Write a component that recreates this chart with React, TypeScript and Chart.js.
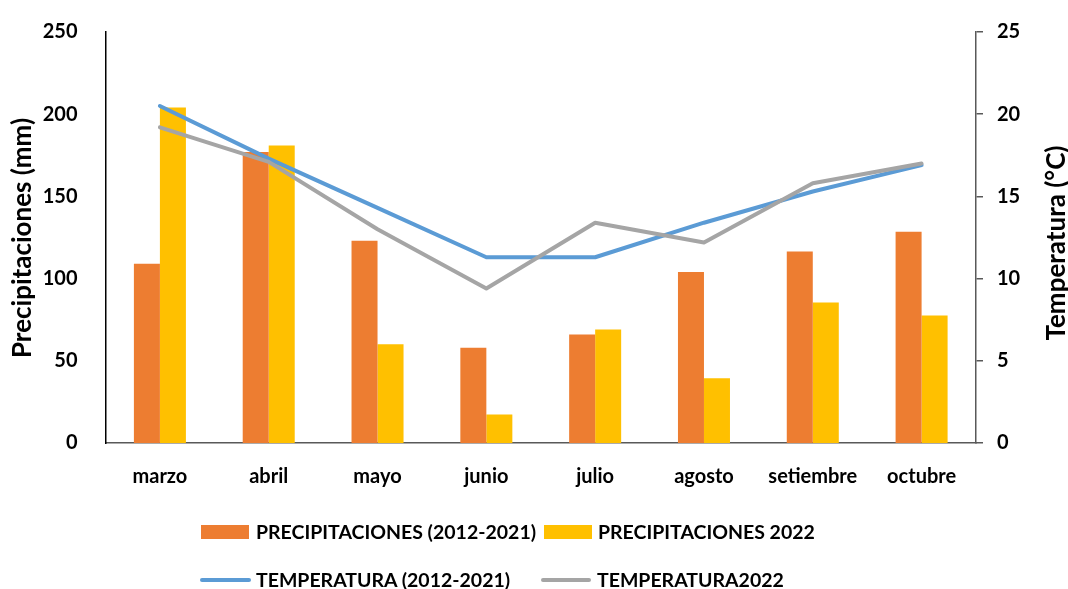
import React, { useEffect, useRef } from 'react';
import { Chart, registerables } from 'chart.js';

Chart.register(...registerables);

const months = ['marzo', 'abril', 'mayo', 'junio', 'julio', 'agosto', 'setiembre', 'octubre'];
const precip20122021 = [109, 177, 123, 58, 66, 104, 116.5, 128.5];
const precip2022 = [204, 181, 60, 17.4, 69, 39.4, 85.5, 77.5];
const temp20122021 = [20.5, 17.3, 14.3, 11.3, 11.3, 13.4, 15.3, 16.9];
const temp2022 = [19.2, 17.1, 13.0, 9.4, 13.4, 12.2, 15.8, 17.0];
const precipTicks = [0, 50, 100, 150, 200, 250];
const tempTicks = [0, 5, 10, 15, 20, 25];

const seriesLabels = [
  'PRECIPITACIONES (2012-2021)',
  'PRECIPITACIONES 2022',
  'TEMPERATURA (2012-2021)',
  'TEMPERATURA2022',
];
const leftTitle = 'Precipitaciones (mm)';
const rightTitle = 'Temperatura (°C)';

const ORANGE = '#ED7D31';
const YELLOW = '#FFC000';
const BLUE = '#5B9BD5';
const GRAY = '#A5A5A5';
const FONT = 'Lato, "Open Sans", sans-serif';

const titlePlugin = {
  id: 'axisTitles',
  afterDraw(chart: any) {
    const ctx = chart.ctx;
    ctx.save();
    ctx.fillStyle = '#000';
    ctx.font = `bold 26px ${FONT}`;
    ctx.textAlign = 'center';
    ctx.textBaseline = 'middle';
    ctx.translate(23, 238);
    ctx.rotate(-Math.PI / 2);
    ctx.fillText(leftTitle, 0, 0);
    ctx.restore();
    ctx.save();
    ctx.fillStyle = '#000';
    ctx.font = `bold 26px ${FONT}`;
    ctx.textAlign = 'center';
    ctx.textBaseline = 'middle';
    ctx.translate(1057, 243);
    ctx.rotate(-Math.PI / 2);
    ctx.fillText(rightTitle, 0, 0);
    ctx.restore();
  },
};

export default function App() {
  const ref = useRef<HTMLCanvasElement | null>(null);

  useEffect(() => {
    if (!ref.current) return;
    const chart = new Chart(ref.current, {
      type: 'bar',
      data: {
        labels: months,
        datasets: [
          {
            type: 'bar',
            label: seriesLabels[0],
            data: precip20122021,
            backgroundColor: ORANGE,
            yAxisID: 'y',
            order: 2,
            categoryPercentage: 0.478,
            barPercentage: 1,
          },
          {
            type: 'bar',
            label: seriesLabels[1],
            data: precip2022,
            backgroundColor: YELLOW,
            yAxisID: 'y',
            order: 3,
            categoryPercentage: 0.478,
            barPercentage: 1,
          },
          {
            type: 'line',
            label: seriesLabels[2],
            data: temp20122021,
            borderColor: BLUE,
            backgroundColor: BLUE,
            borderWidth: 4,
            pointRadius: 0,
            tension: 0,
            borderCapStyle: 'round',
            borderJoinStyle: 'round',
            yAxisID: 'y1',
            order: 1,
          },
          {
            type: 'line',
            label: seriesLabels[3],
            data: temp2022,
            borderColor: GRAY,
            backgroundColor: GRAY,
            borderWidth: 4,
            pointRadius: 0,
            tension: 0,
            borderCapStyle: 'round',
            borderJoinStyle: 'round',
            yAxisID: 'y1',
            order: 0,
          },
        ] as any,
      },
      options: {
        animation: false,
        responsive: true,
        maintainAspectRatio: false,
        events: [],
        layout: { padding: { top: 26, left: 0, right: 0, bottom: 0 } },
        plugins: {
          legend: { display: false },
          tooltip: { enabled: false },
        },
        scales: {
          x: {
            type: 'category',
            offset: true,
            grid: { display: false },
            border: { display: true, color: '#595959', width: 1.5 },
            ticks: {
              color: '#000',
              padding: 14,
              maxRotation: 0,
              font: { family: FONT, size: 20, weight: 'bold' },
            },
            afterFit(scale: any) {
              scale.height = 146;
            },
          },
          y: {
            position: 'left',
            min: precipTicks[0],
            max: precipTicks[precipTicks.length - 1],
            grid: { display: false },
            border: { display: true, color: '#000', width: 1.5 },
            ticks: {
              stepSize: precipTicks[1] - precipTicks[0],
              color: '#000',
              padding: 20,
              font: { family: FONT, size: 20, weight: 'bold' },
            },
            afterFit(scale: any) {
              scale.width = 105.5;
            },
          },
          y1: {
            position: 'right',
            min: tempTicks[0],
            max: tempTicks[tempTicks.length - 1],
            grid: {
              display: true,
              drawOnChartArea: false,
              drawTicks: true,
              tickLength: 7,
              color: '#595959',
              lineWidth: 1.5,
            },
            border: { display: true, color: '#595959', width: 1.5 },
            ticks: {
              stepSize: tempTicks[1] - tempTicks[0],
              color: '#000',
              padding: 14,
              font: { family: FONT, size: 20, weight: 'bold' },
            },
            afterFit(scale: any) {
              scale.width = 92;
            },
          },
        },
      } as any,
      plugins: [titlePlugin],
    });
    return () => chart.destroy();
  }, []);

  const legendText: React.CSSProperties = {
    font: `bold 19.5px ${FONT}`,
    color: '#000',
    whiteSpace: 'nowrap',
    lineHeight: '24px',
  };
  const item = (left: number, top: number): React.CSSProperties => ({
    position: 'absolute',
    left,
    top,
    height: 24,
    display: 'flex',
    alignItems: 'center',
  });

  return (
    <div style={{ position: 'fixed', left: 0, top: 0, width: 1068, height: 589, background: '#fff' }}>
      <canvas ref={ref} />
      <div style={item(201, 520)}>
        <div style={{ width: 48, height: 14, background: ORANGE, marginRight: 7 }} />
        <span style={legendText}>{seriesLabels[0]}</span>
      </div>
      <div style={item(544, 520)}>
        <div style={{ width: 48, height: 14, background: YELLOW, marginRight: 6 }} />
        <span style={legendText}>{seriesLabels[1]}</span>
      </div>
      <div style={item(200, 568)}>
        <div style={{ width: 51, height: 4, borderRadius: 2, background: BLUE, marginRight: 5 }} />
        <span style={legendText}>{seriesLabels[2]}</span>
      </div>
      <div style={item(541, 568)}>
        <div style={{ width: 50, height: 4, borderRadius: 2, background: GRAY, marginRight: 6 }} />
        <span style={legendText}>{seriesLabels[3]}</span>
      </div>
    </div>
  );
}
